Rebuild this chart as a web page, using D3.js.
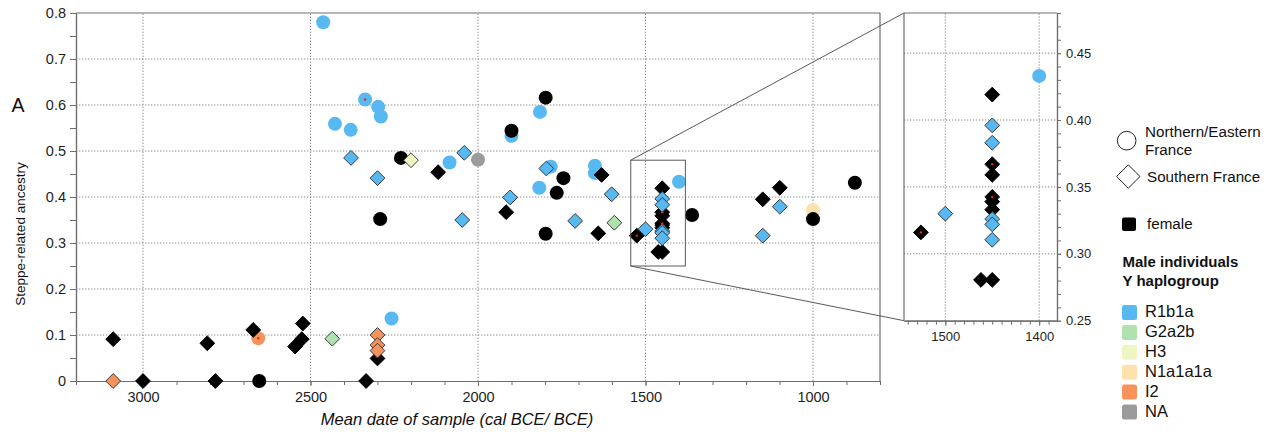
<!DOCTYPE html>
<html>
<head>
<meta charset="utf-8">
<script src="https://cdn.jsdelivr.net/npm/d3@7"></script>
<style>
  html, body { margin: 0; padding: 0; background: #fff; }
  svg { display: block; font-family: "Liberation Sans", Arial, Helvetica, sans-serif; }
</style>
</head>
<body>
<svg id="chart" width="1279" height="436"></svg>
<script>
// ---------------- DATA ----------------
// [mean date BCE, steppe-related ancestry]
// Northern/Eastern France (circles), male by Y haplogroup
const circR1b1a = [[2462,0.780],[2427,0.559],[2380,0.546],[2337,0.612],[2298,0.596],[2290,0.575],
  [2085,0.475],[1900,0.533],[1815,0.585],[1817,0.420],[1783,0.466],[1651,0.468],[1651,0.452],
  [1400,0.433],[2258,0.136]];
const circI2 = [[2656,0.093]];
const circN1a1a1a = [[1000,0.372]];
const circNA = [[2000,0.481]];
// Northern/Eastern France, female
const circFemale = [[2653,0],[2292,0.352],[2230,0.485],[1900,0.544],[1798,0.616],[1745,0.441],
  [1765,0.409],[1798,0.320],[1361,0.361],[1000,0.352],[875,0.431]];
// Southern France (diamonds), male by Y haplogroup
const diaR1b1a = [[2379,0.485],[2300,0.441],[2041,0.496],[2047,0.350],[1904,0.399],[1796,0.462],
  [1710,0.348],[1601,0.406],[1500,0.330],[1450,0.396],[1450,0.383],[1450,0.326],[1450,0.322],
  [1450,0.3105],[1099,0.379],[1150,0.316]];
const diaG2a2b = [[2435,0.092],[1593,0.344]];
const diaH3 = [[2200,0.480]];
const diaI2 = [[3089,0],[2300,0.100],[2300,0.078],[2300,0.066]];
// Southern France, female
const diaFemale = [[3089,0.091],[3000,0],[2808,0.082],[2784,0],[2671,0.111],[2523,0.125],[2526,0.091],
  [2546,0.075],[2334,0],[2300,0.049],[2119,0.454],[1916,0.367],[1631,0.448],[1641,0.321],[1526,0.316],
  [1450,0.419],[1450,0.367],[1450,0.359],[1450,0.3425],[1450,0.339],[1450,0.333],[1450,0.2805],
  [1462,0.2805],[1150,0.395],[1099,0.420]];
// samples flagged with a small red centre dot
const redDots = [[2337,0.612],[2656,0.093],[1526,0.316],[1450,0.367],[1450,0.3425]];

const haplogroups = ["R1b1a","G2a2b","H3","N1a1a1a","I2","NA"];
const mainXTicks = [3000,2500,2000,1500,1000];
const mainYTicks = [0,0.1,0.2,0.3,0.4,0.5,0.6,0.7,0.8];
const insetXTicks = [1500,1400];
const insetYTicks = [0.25,0.30,0.35,0.40,0.45];
const shapeLabels = ["Northern/Eastern", "France", "Southern France"];

// ---------------- STYLE ----------------
const hapColor = {R1b1a:"#58b8f2", G2a2b:"#afe2ae", H3:"#eef6c2", N1a1a1a:"#fde2ae", I2:"#f7935a", NA:"#9b9b9b"};
const FEMALE = "#000";

const series = [
  {data: circR1b1a, shape: "c", fill: hapColor.R1b1a},
  {data: circI2, shape: "c", fill: hapColor.I2},
  {data: circN1a1a1a, shape: "c", fill: hapColor.N1a1a1a},
  {data: circNA, shape: "c", fill: hapColor.NA},
  {data: circFemale, shape: "c", fill: FEMALE},
  {data: diaFemale, shape: "d", fill: FEMALE},
  {data: diaR1b1a, shape: "d", fill: hapColor.R1b1a},
  {data: diaG2a2b, shape: "d", fill: hapColor.G2a2b},
  {data: diaH3, shape: "d", fill: hapColor.H3},
  {data: diaI2, shape: "d", fill: hapColor.I2},
];

const svg = d3.select("#chart");
const gridColor = "#8c8c8c";
const axisColor = "#6e6e6e";

// ---------------- SCALES ----------------
const x = d3.scaleLinear().domain([3200, 800]).range([76, 880]);
const y = d3.scaleLinear().domain([0, 0.8]).range([381, 13]);
const xi = d3.scaleLinear().domain([1544, 1381]).range([904, 1057]);
const yi = d3.scaleLinear().domain([0.25, 0.48]).range([320.7, 13]);

const R = 7, D = 7.4;
const diamond = s => `M0,${-s}L${s},0L0,${s}L${-s},0Z`;

function drawPoints(g, xs, ys) {
  series.forEach(s => {
    const sel = g.selectAll(null).data(s.data).enter();
    if (s.shape === "c") {
      sel.append("circle")
        .attr("cx", d => xs(d[0])).attr("cy", d => ys(d[1])).attr("r", R)
        .attr("fill", s.fill);
    } else {
      sel.append("path")
        .attr("d", diamond(D))
        .attr("transform", d => `translate(${xs(d[0])},${ys(d[1])})`)
        .attr("fill", s.fill)
        .attr("stroke", s.fill === FEMALE ? "#000" : "#3a3a3a")
        .attr("stroke-width", 1);
    }
  });
  g.selectAll(null).data(redDots).enter().append("circle")
    .attr("cx", d => xs(d[0])).attr("cy", d => ys(d[1])).attr("r", 1.2)
    .attr("fill", "#e8261c");
}

// ---------------- MAIN PLOT ----------------
const main = svg.append("g");
// gridlines
main.append("g").selectAll("line").data(mainYTicks.filter(v => v > 0 && v < 0.8)).enter().append("line")
  .attr("x1", x.range()[0]).attr("x2", x.range()[1]).attr("y1", d => y(d)).attr("y2", d => y(d))
  .attr("stroke", gridColor).attr("stroke-dasharray", "1.3,1.7");
main.append("g").selectAll("line").data(mainXTicks).enter().append("line")
  .attr("x1", d => x(d)).attr("x2", d => x(d)).attr("y1", y(0)).attr("y2", y(0.8))
  .attr("stroke", gridColor).attr("stroke-dasharray", "1.3,1.7");
// frame top/right
main.append("line").attr("x1", x(3200)).attr("x2", x(800)).attr("y1", y(0.8)).attr("y2", y(0.8))
  .attr("stroke", axisColor).attr("stroke-width", 1.2);
main.append("line").attr("x1", x(800)).attr("x2", x(800)).attr("y1", y(0.8)).attr("y2", y(0))
  .attr("stroke", axisColor).attr("stroke-width", 1.2);

function styleAxis(g, fs) {
  g.select(".domain").attr("stroke", axisColor).attr("stroke-width", 1.2);
  g.selectAll(".tick line").attr("stroke", axisColor);
  g.selectAll("text").attr("fill", "#1e1e1e").style("font-size", fs + "px")
    .style("font-family", '"Liberation Sans", Arial, sans-serif');
}
// y axis
const yMinor = main.append("g").attr("transform", `translate(${x(3200)},0)`)
  .call(d3.axisLeft(y).tickValues(d3.range(0, 0.801, 0.05)).tickFormat("").tickSize(6).tickSizeOuter(0));
styleAxis(yMinor, 14.5);
const yMajor = main.append("g").attr("transform", `translate(${x(3200)},0)`)
  .call(d3.axisLeft(y).tickValues(mainYTicks).tickFormat(d => d === 0 ? "0" : d3.format(".1f")(d))
    .tickSize(6).tickPadding(4).tickSizeOuter(0));
styleAxis(yMajor, 14.5);
// x axis
const xMinor = main.append("g").attr("transform", `translate(0,${y(0)})`)
  .call(d3.axisBottom(x).tickValues(d3.range(800, 3201, 100)).tickFormat("").tickSize(4).tickSizeOuter(0));
styleAxis(xMinor, 14.5);
const xMajor = main.append("g").attr("transform", `translate(0,${y(0)})`)
  .call(d3.axisBottom(x).tickValues(mainXTicks).tickFormat(d3.format("d")).tickSize(5).tickPadding(6).tickSizeOuter(0));
styleAxis(xMajor, 14.5);

// points
drawPoints(main.append("g"), x, y);

// zoom box + connectors
const bx0 = x(xi.domain()[0]), bx1 = x(xi.domain()[1]);
const by0 = y(yi.domain()[1]), by1 = y(yi.domain()[0]);
main.append("rect").attr("x", bx0).attr("y", by0).attr("width", bx1 - bx0).attr("height", by1 - by0)
  .attr("fill", "none").attr("stroke", "#5a5a5a").attr("stroke-width", 1);
main.append("line").attr("x1", bx0).attr("y1", by0).attr("x2", xi.range()[0]).attr("y2", yi.range()[1])
  .attr("stroke", "#5a5a5a").attr("stroke-width", 1);
main.append("line").attr("x1", bx0).attr("y1", by1).attr("x2", xi.range()[0]).attr("y2", yi.range()[0])
  .attr("stroke", "#5a5a5a").attr("stroke-width", 1);

// labels
svg.append("text").attr("x", 11.5).attr("y", 112.3).text("A")
  .style("font-size", "19.5px").attr("fill", "#111");
svg.append("text").attr("transform", "translate(25,234) rotate(-90)").attr("text-anchor", "middle")
  .text("Steppe-related ancestry").style("font-size", "13.5px").attr("fill", "#111");
svg.append("text").attr("x", 457).attr("y", 425).attr("text-anchor", "middle")
  .text("Mean date of sample (cal BCE/ BCE)").style("font-size", "16.5px").style("font-style", "italic")
  .attr("fill", "#111");

// ---------------- INSET ----------------
const inset = svg.append("g");
inset.append("rect").attr("x", xi.range()[0]).attr("y", yi.range()[1])
  .attr("width", xi.range()[1] - xi.range()[0]).attr("height", yi.range()[0] - yi.range()[1]).attr("fill", "#fff");
inset.append("g").selectAll("line").data(insetYTicks.filter(v => v > 0.25)).enter().append("line")
  .attr("x1", xi.range()[0]).attr("x2", xi.range()[1]).attr("y1", d => yi(d)).attr("y2", d => yi(d))
  .attr("stroke", gridColor).attr("stroke-dasharray", "1.3,1.7");
inset.append("g").selectAll("line").data(insetXTicks).enter().append("line")
  .attr("x1", d => xi(d)).attr("x2", d => xi(d)).attr("y1", yi.range()[0]).attr("y2", yi.range()[1])
  .attr("stroke", gridColor).attr("stroke-dasharray", "1.3,1.7");
// frame left/top
inset.append("line").attr("x1", xi.range()[0]).attr("x2", xi.range()[0]).attr("y1", yi.range()[1]).attr("y2", yi.range()[0])
  .attr("stroke", axisColor).attr("stroke-width", 1.2);
inset.append("line").attr("x1", xi.range()[0]).attr("x2", xi.range()[1]).attr("y1", yi.range()[1]).attr("y2", yi.range()[1])
  .attr("stroke", axisColor).attr("stroke-width", 1.2);

svg.append("defs").append("clipPath").attr("id", "insetClip").append("rect")
  .attr("x", xi.range()[0]).attr("y", yi.range()[1])
  .attr("width", xi.range()[1] - xi.range()[0]).attr("height", yi.range()[0] - yi.range()[1]);
drawPoints(inset.append("g").attr("clip-path", "url(#insetClip)"), xi, yi);

const yiMinor = inset.append("g").attr("transform", `translate(${xi.range()[1]},0)`)
  .call(d3.axisRight(yi).tickValues(d3.range(0.25, 0.4801, 0.01)).tickFormat("").tickSize(4).tickSizeOuter(0));
styleAxis(yiMinor, 13);
const yiMajor = inset.append("g").attr("transform", `translate(${xi.range()[1]},0)`)
  .call(d3.axisRight(yi).tickValues(insetYTicks).tickFormat(d3.format(".2f")).tickSize(4).tickPadding(5).tickSizeOuter(0));
styleAxis(yiMajor, 13);
const xiMinor = inset.append("g").attr("transform", `translate(0,${yi.range()[0]})`)
  .call(d3.axisBottom(xi).tickValues(d3.range(1390, 1541, 10)).tickFormat("").tickSize(4).tickSizeOuter(0));
styleAxis(xiMinor, 13);
const xiMajor = inset.append("g").attr("transform", `translate(0,${yi.range()[0]})`)
  .call(d3.axisBottom(xi).tickValues(insetXTicks).tickFormat(d3.format("d")).tickSize(5).tickPadding(6).tickSizeOuter(0));
styleAxis(xiMajor, 13);

// ---------------- LEGEND ----------------
const leg = svg.append("g").attr("fill", "#111");
leg.append("circle").attr("cx", 1126.7).attr("cy", 140.7).attr("r", 9.3)
  .attr("fill", "none").attr("stroke", "#222").attr("stroke-width", 1);
leg.append("text").attr("x", 1145).attr("y", 137.3).text(shapeLabels[0]).style("font-size", "15.2px");
leg.append("text").attr("x", 1145).attr("y", 155).text(shapeLabels[1]).style("font-size", "15.2px");
leg.append("path").attr("d", diamond(11.7)).attr("transform", "translate(1128.3,176.5)")
  .attr("fill", "none").attr("stroke", "#222").attr("stroke-width", 1);
leg.append("text").attr("x", 1147).attr("y", 181.7).text(shapeLabels[2]).style("font-size", "15.2px");
leg.append("rect").attr("x", 1122).attr("y", 217.5).attr("width", 14).attr("height", 13.5).attr("rx", 2)
  .attr("fill", "#000");
leg.append("text").attr("x", 1147).attr("y", 229).text("female").style("font-size", "15.2px");
leg.append("text").attr("x", 1122.5).attr("y", 267).text("Male individuals")
  .style("font-size", "15px").style("font-weight", "bold");
leg.append("text").attr("x", 1122.5).attr("y", 285.5).text("Y haplogroup")
  .style("font-size", "15px").style("font-weight", "bold");
const hg = leg.selectAll("g.hap").data(haplogroups).enter().append("g").attr("class", "hap")
  .attr("transform", (d, i) => `translate(0,${i * 19.9})`);
hg.append("rect").attr("x", 1122).attr("y", 305).attr("width", 15).attr("height", 15).attr("rx", 2.5)
  .attr("fill", d => hapColor[d]);
hg.append("text").attr("x", 1145).attr("y", 317).text(d => d).style("font-size", "16.5px");
</script>
</body>
</html>
